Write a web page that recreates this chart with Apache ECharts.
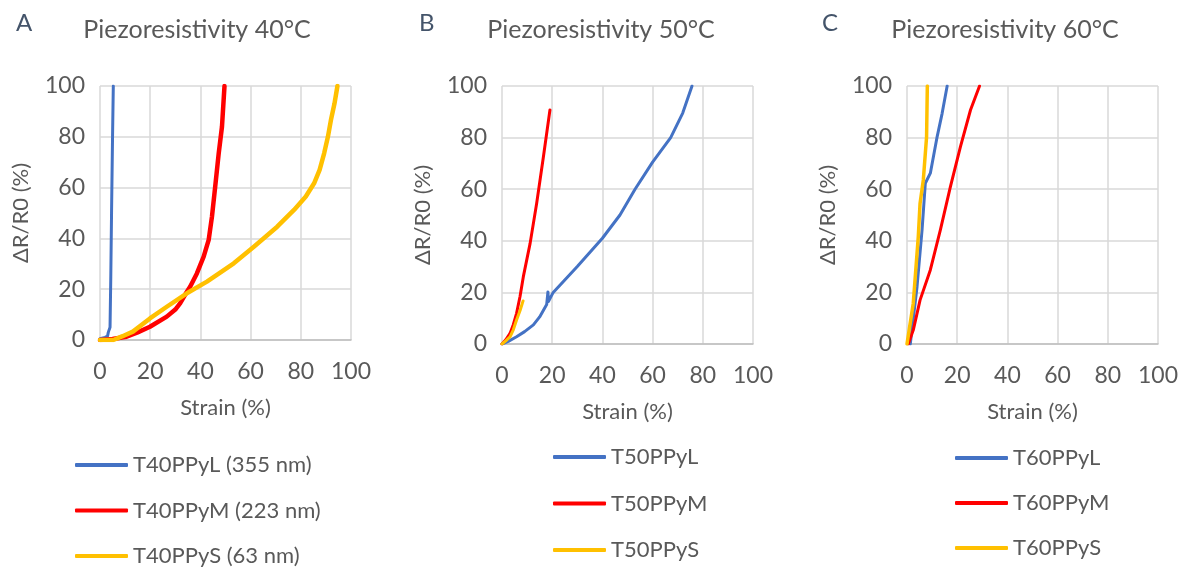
<!DOCTYPE html>
<html>
<head>
<meta charset="utf-8">
<script src="https://cdn.jsdelivr.net/npm/echarts@6/dist/echarts.min.js"></script>
<style>
  html, body { margin: 0; padding: 0; background: #fff; }
  #chart { width: 1184px; height: 567px; }
</style>
</head>
<body>
<div id="chart"></div>
<script>
// tick labels
var axisTicks = [0, 20, 40, 60, 80, 100]
var panelTitles = ['Piezoresistivity 40°C', 'Piezoresistivity 50°C', 'Piezoresistivity 60°C']
var panelLetters = ['A', 'B', 'C']

// panel A - 40°C
var t40L_x = [0, 2, 3, 3.3, 4, 4.3, 4.6, 5, 5.3]
var t40L_y = [0.5, 1, 1.5, 3, 5, 25, 50, 80, 100]
var t40M_x = [0, 5, 10.6, 15, 19.9, 26.6, 30, 31.9, 34, 35.9, 38.6, 41.3, 43.3, 44.6, 45.9, 47.3, 48.6, 49.6]
var t40M_y = [0, 0.4, 1.3, 3, 5.2, 9.2, 12, 14.4, 18, 21, 26.2, 32.8, 39.4, 48.5, 60.4, 73.5, 84, 100]
var t40S_x = [0, 5.3, 9, 13.1, 19.9, 26.6, 34.6, 42.6, 53.3, 61.3, 70.6, 77.3, 82, 85.3, 87.5, 89.3, 90.8, 92, 93.4, 94.6]
var t40S_y = [0, 0, 1.5, 3.3, 8.5, 13.1, 18.4, 23, 30.2, 36.7, 44.6, 51.2, 56.5, 61.7, 67, 73.5, 80, 86.6, 93, 100]

// panel B - 50°C
var t50L_x = [0, 2.5, 5.8, 9, 12.5, 15, 17.8, 18.3, 18.5, 20.4, 30, 40, 47, 53, 60, 67.2, 72, 75.7]
var t50L_y = [0, 1, 2.8, 4.8, 7.4, 10.5, 15.3, 20.2, 16.5, 20, 30, 41, 50, 60, 70.5, 80, 89.5, 100]
var t50M_x = [0, 1.5, 3.2, 4.5, 5.8, 7.2, 8.5, 11.2, 13.8, 16.5, 19.1]
var t50M_y = [0, 1.6, 4.1, 7.5, 11.9, 18.5, 26.1, 39, 54.5, 72.6, 90.7]
var t50S_x = [0, 1.5, 3.2, 4.5, 5.8, 7.2, 8.4]
var t50S_y = [0, 1.2, 2.8, 5.5, 9.3, 13, 16.7]

// panel C - 60°C
var t60L_x = [1.3, 4, 6, 7.3, 9.3, 12, 14, 16]
var t60L_y = [0, 22.2, 44.2, 62.3, 66.2, 80.3, 89.4, 100]
var t60M_x = [0.5, 2.5, 5.2, 9.3, 13.3, 17.3, 21.3, 25.3, 28.9]
var t60M_y = [0, 5.4, 17, 28.7, 44.2, 61, 76.5, 90.7, 100]
var t60S_x = [0, 2.5, 4.5, 5.2, 6.5, 7.8, 8.1]
var t60S_y = [0, 15.8, 41.6, 54.5, 63.6, 80.3, 100]

var colors = { L: '#4472C4', M: '#FF0000', S: '#FFC000' }
var textColor = '#595959'
var fontFam = 'Lato, "Open Sans", sans-serif'

function pairs (xs, ys) {
  var out = []
  for (var i = 0; i < xs.length; i++) out.push([xs[i], ys[i]])
  return out
}

// grid boxes per panel
var grids = [
  { left: 100, top: 86, width: 251, height: 254 },
  { left: 502, top: 86, width: 251, height: 258 },
  { left: 907, top: 86, width: 251, height: 258 }
]

var panels = [
  {
    series: [
      { name: 'T40PPyL (355 nm)', c: colors.L, w: 3, d: pairs(t40L_x, t40L_y) },
      { name: 'T40PPyM (223 nm)', c: colors.M, w: 4.5, d: pairs(t40M_x, t40M_y) },
      { name: 'T40PPyS (63 nm)', c: colors.S, w: 4.5, d: pairs(t40S_x, t40S_y) }
    ],
    legend: { left: 75, top: 454, gap: 23.5 }
  },
  {
    series: [
      { name: 'T50PPyL', c: colors.L, w: 3, d: pairs(t50L_x, t50L_y) },
      { name: 'T50PPyM', c: colors.M, w: 3, d: pairs(t50M_x, t50M_y) },
      { name: 'T50PPyS', c: colors.S, w: 3, d: pairs(t50S_x, t50S_y) }
    ],
    legend: { left: 553, top: 446, gap: 24.5 }
  },
  {
    series: [
      { name: 'T60PPyL', c: colors.L, w: 3, d: pairs(t60L_x, t60L_y) },
      { name: 'T60PPyM', c: colors.M, w: 3, d: pairs(t60M_x, t60M_y) },
      { name: 'T60PPyS', c: colors.S, w: 3.5, d: pairs(t60S_x, t60S_y) }
    ],
    legend: { left: 955, top: 447, gap: 23 }
  }
]

var titleCenters = [192, 596, 1000]
var letterLefts = [11, 414, 817]

var chart = echarts.init(document.getElementById('chart'))

var option = {
  animation: false,
  backgroundColor: '#fff',
  title: [],
  grid: [],
  xAxis: [],
  yAxis: [],
  legend: [],
  series: []
}

panels.forEach(function (p, i) {
  option.title.push({
    text: panelTitles[i],
    left: titleCenters[i],
    textAlign: 'center',
    top: 12,
    textStyle: { color: textColor, fontFamily: fontFam, fontSize: 25, fontWeight: 'normal' }
  })
  option.title.push({
    text: panelLetters[i],
    left: letterLefts[i],
    top: 6,
    textStyle: { color: '#44546A', fontFamily: fontFam, fontSize: 24, fontWeight: 'normal' }
  })
  option.grid.push(Object.assign({ containLabel: false }, grids[i]))
  option.xAxis.push({
    type: 'value',
    gridIndex: i,
    min: 0,
    max: 100,
    interval: 20,
    name: 'Strain (%)',
    nameLocation: 'middle',
    nameGap: 57,
    nameTextStyle: { color: textColor, fontFamily: fontFam, fontSize: 22 },
    axisLine: { show: true, lineStyle: { color: '#BFBFBF', width: 1.5 } },
    axisTick: { show: false },
    axisLabel: { color: textColor, fontFamily: fontFam, fontSize: 23, margin: 20 },
    splitLine: { show: true, lineStyle: { color: '#D9D9D9', width: 1.5 } }
  })
  option.yAxis.push({
    type: 'value',
    gridIndex: i,
    min: 0,
    max: 100,
    interval: 20,
    name: 'ΔR/R0 (%)',
    nameLocation: 'middle',
    nameGap: 68,
    nameTextStyle: { color: textColor, fontFamily: fontFam, fontSize: 22 },
    axisLine: { show: false },
    axisTick: { show: false },
    axisLabel: { color: textColor, fontFamily: fontFam, fontSize: 23, margin: 15 },
    splitLine: { show: true, lineStyle: { color: '#D9D9D9', width: 1.5 } }
  })
  option.legend.push({
    orient: 'vertical',
    left: p.legend.left,
    top: p.legend.top,
    height: 150,
    padding: 0,
    itemWidth: 53,
    itemHeight: 4,
    itemGap: p.legend.gap,
    icon: 'roundRect',
    textStyle: { color: textColor, fontFamily: fontFam, fontSize: 22, lineHeight: 20 },
    data: p.series.map(function (s) { return s.name })
  })
  p.series.forEach(function (s) {
    option.series.push({
      name: s.name,
      type: 'line',
      xAxisIndex: i,
      yAxisIndex: i,
      data: s.d,
      showSymbol: false,
      symbol: 'none',
      smooth: false,
      color: s.c,
      lineStyle: { color: s.c, width: s.w, cap: 'round', join: 'round' }
    })
  })
})

chart.setOption(option)
</script>
</body>
</html>
